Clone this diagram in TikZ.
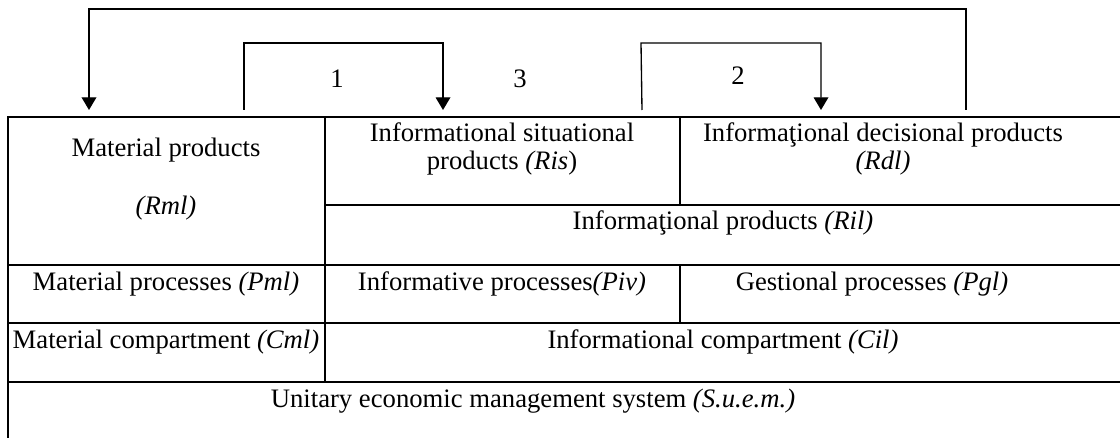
\documentclass[tikz,border=0pt]{standalone}
\usepackage{fontspec}
\setmainfont{Liberation Serif}
\usetikzlibrary{arrows.meta}
\tikzset{
	grid line/.style={line width=1.5pt},
	flow/.style={line width=1pt,-{Triangle[length=9.5pt,width=11pt]}},
	cell/.style={anchor=base,inner sep=0pt,align=center,
		font=\fontsize{20}{21}\selectfont},
}

\begin{document}
\begin{tikzpicture}[x=0.75pt,y=-0.75pt]
		\useasboundingbox (0,0) rectangle (1120,438);
		% table lines
		\draw[grid line] (1120,117) -- (8,117) -- (8,438);
		\draw[grid line] (325,205) -- (1120,205);
		\foreach \y in {265,323,382}
			\draw[grid line] (8,\y) -- (1120,\y);
		\draw[grid line] (325,117) -- (325,382);
		\draw[grid line] (680,117) -- (680,205);
		\draw[grid line] (680,265) -- (680,323);
		% cells
		\node[cell] (rmlA) at (166,157) {Material products};
		\node[cell] (rmlB) at (166,215) {\textit{(Rml)}};
		\node[cell] (ris) at (502,170) {Informational situational\\products \textit{(Ris})};
		\node[cell] (rdl) at (883,170) {Informaţional decisional products\\\textit{(Rdl)}};
		\node[cell] (ril) at (723,229) {Informaţional products \textit{(Ril)}};
		\node[cell] (pml) at (166,291) {Material processes \textit{(Pml)}};
		\node[cell] (piv) at (502,291) {Informative processes\textit{(Piv)}};
		\node[cell] (pgl) at (872,291) {Gestional processes \textit{(Pgl)}};
		\node[cell] (cml) at (166,348) {Material compartment \textit{(Cml)}};
		\node[cell] (cil) at (723,348) {Informational compartment \textit{(Cil)}};
		\node[cell] (suem) at (533,407) {Unitary economic management system \textit{(S.u.e.m.)}};
		% flows between products
		\coordinate (rmlIn) at (89,110);
		\coordinate (rmlOut) at (244,110);
		\coordinate (risIn) at (443,110);
		\coordinate (risOut) at (642,110);
		\coordinate (rdlIn) at (821,110);
		\coordinate (rdlOut) at (966,110);
		\draw[flow] (rdlOut) -- ++(0,-101) -| (rmlIn);
		\draw[flow] (rmlOut) -- ++(0,-67) -| (risIn);
		\draw[flow] (risOut) -- ++(-1,-67) -| (rdlIn);
		\node[cell] (one) at (337,88) {1};
		\node[cell] (three) at (520,88) {3};
		\node[cell] (two) at (738,85) {2};
\end{tikzpicture}
\end{document}
